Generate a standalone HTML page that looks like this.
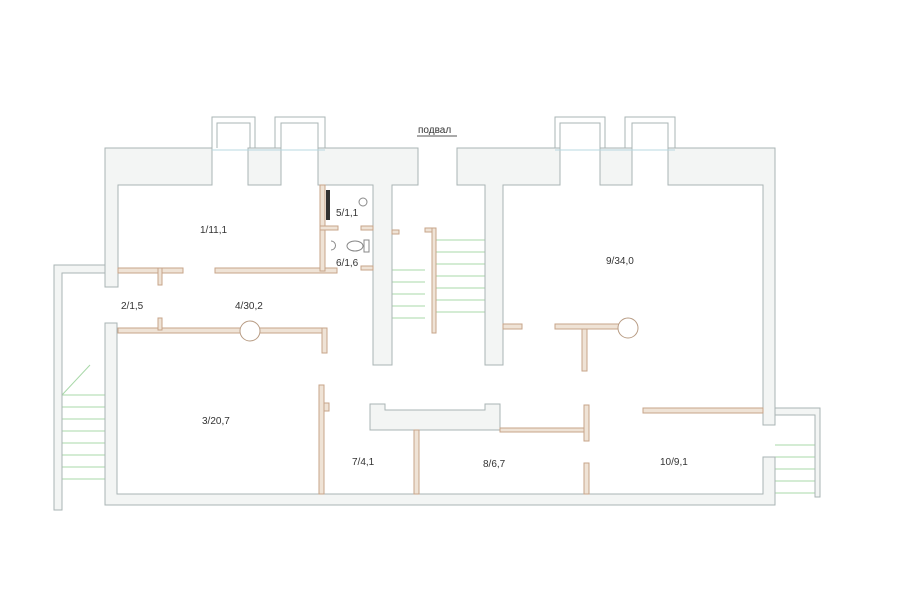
<!DOCTYPE html>
<html><head><meta charset="utf-8"><style>
html,body{margin:0;padding:0;background:#fff;width:900px;height:604px;overflow:hidden}
svg{display:block}
text{font-family:"Liberation Sans",sans-serif;font-size:10px;fill:#333}
.w{fill:#f3f5f4;stroke:#aab4b4;stroke-width:1}
.p{fill:#efe3d6;stroke:#c7a58a;stroke-width:1}
.g{stroke:#a8d8a8;stroke-width:1}
</style></head><body>
<svg width="900" height="604" viewBox="0 0 900 604" xmlns="http://www.w3.org/2000/svg">
<!-- stairs -->
<g class="g">
<line x1="62" y1="395" x2="105" y2="395"/><line x1="62" y1="407" x2="105" y2="407"/><line x1="62" y1="419" x2="105" y2="419"/><line x1="62" y1="431" x2="105" y2="431"/><line x1="62" y1="443" x2="105" y2="443"/><line x1="62" y1="455" x2="105" y2="455"/><line x1="62" y1="467" x2="105" y2="467"/><line x1="62" y1="479" x2="105" y2="479"/><line x1="62" y1="395" x2="90" y2="365"/>
<line x1="435" y1="240" x2="485" y2="240"/><line x1="435" y1="252" x2="485" y2="252"/><line x1="435" y1="264" x2="485" y2="264"/><line x1="435" y1="276" x2="485" y2="276"/><line x1="435" y1="288" x2="485" y2="288"/><line x1="435" y1="300" x2="485" y2="300"/><line x1="435" y1="312" x2="485" y2="312"/>
<line x1="392" y1="270" x2="425" y2="270"/><line x1="392" y1="282" x2="425" y2="282"/><line x1="392" y1="294" x2="425" y2="294"/><line x1="392" y1="306" x2="425" y2="306"/><line x1="392" y1="318" x2="425" y2="318"/>
<line x1="775" y1="445" x2="818" y2="445"/><line x1="775" y1="457" x2="818" y2="457"/><line x1="775" y1="469" x2="818" y2="469"/><line x1="775" y1="481" x2="818" y2="481"/><line x1="775" y1="493" x2="818" y2="493"/>
</g>
<!-- chimneys -->
<g fill="none" stroke="#aab4b4">
<path d="M212 148V117H255V148M217 148V123H250V148"/>
<path d="M275 148V117H325V148M281 148V123H318V148"/>
<path d="M555 148V117H605V148M560 148V123H600V148"/>
<path d="M625 148V117H675V148M632 148V123H668V148"/>
</g>
<!-- thick walls left block -->
<path class="w" d="M105 148H212V185H118V287H105Z"/>
<path class="w" d="M248 148H281V185H248Z"/>
<path class="w" d="M318 148H418V185H392V365H373V185H318Z"/>
<path class="w" d="M54 265H105V273H62V510H54Z"/>
<path class="w" d="M105 323H117V494H763V457H775V505H105Z"/>
<!-- right block -->
<path class="w" d="M457 148H560V185H503V365H485V185H457Z"/>
<path class="w" d="M600 148H632V185H600Z"/>
<path class="w" d="M668 148H775V425H763V185H668Z"/>
<path class="w" d="M775 408H820V497H815V415H775Z"/>
<path class="w" d="M370 404H385V410H485V404H500V430H370Z"/>
<g fill="none" stroke="#b8d8e0" stroke-width="1"><line x1="212" y1="150" x2="325" y2="150"/><line x1="555" y1="150" x2="675" y2="150"/></g>
<!-- partitions -->
<g class="p">
<rect x="118" y="268" width="65" height="5"/><rect x="158" y="268" width="4" height="17"/>
<rect x="215" y="268" width="122" height="5"/>
<rect x="320" y="185" width="5" height="86"/><rect x="320" y="226" width="18" height="4"/>
<rect x="361" y="226" width="12" height="4"/><rect x="361" y="266" width="12" height="4"/>
<rect x="118" y="328" width="207" height="5"/><rect x="158" y="318" width="4" height="12"/><rect x="322" y="328" width="5" height="25"/>
<rect x="319" y="385" width="5" height="109"/><rect x="324" y="403" width="5" height="8"/>
<rect x="414" y="430" width="5" height="64"/>
<rect x="500" y="428" width="85" height="4"/><rect x="584" y="405" width="5" height="36"/>
<rect x="584" y="463" width="5" height="31"/>
<rect x="555" y="324" width="65" height="5"/><rect x="582" y="329" width="5" height="42"/>
<rect x="503" y="324" width="19" height="5"/>
<rect x="643" y="408" width="120" height="5"/>
<rect x="425" y="228" width="10" height="4"/><rect x="432" y="228" width="4" height="105"/>
<rect x="392" y="230" width="7" height="4"/>
</g>
<circle cx="250" cy="331" r="10" fill="#fff" stroke="#b89c84"/>
<circle cx="628" cy="328" r="10" fill="#fff" stroke="#b89c84"/>
<!-- wc fixtures -->
<rect x="326" y="190" width="4" height="30" fill="#333"/>
<circle cx="363" cy="202" r="4" fill="#fff" stroke="#888"/>
<ellipse cx="355" cy="246" rx="8" ry="5" fill="#fff" stroke="#888"/>
<rect x="364" y="240" width="5" height="12" fill="#fff" stroke="#888"/>
<path d="M331 241a4 4 0 0 1 0 9" fill="none" stroke="#888"/>
<!-- labels -->
<text x="418" y="133" font-size="11">подвал</text>
<line x1="417" y1="136" x2="457" y2="136" stroke="#555"/>
<text x="200" y="233">1/11,1</text>
<text x="336" y="216">5/1,1</text>
<text x="336" y="266">6/1,6</text>
<text x="121" y="309">2/1,5</text>
<text x="235" y="309">4/30,2</text>
<text x="606" y="264">9/34,0</text>
<text x="202" y="424">3/20,7</text>
<text x="352" y="465">7/4,1</text>
<text x="483" y="467">8/6,7</text>
<text x="660" y="465">10/9,1</text>
</svg>
</body></html>
